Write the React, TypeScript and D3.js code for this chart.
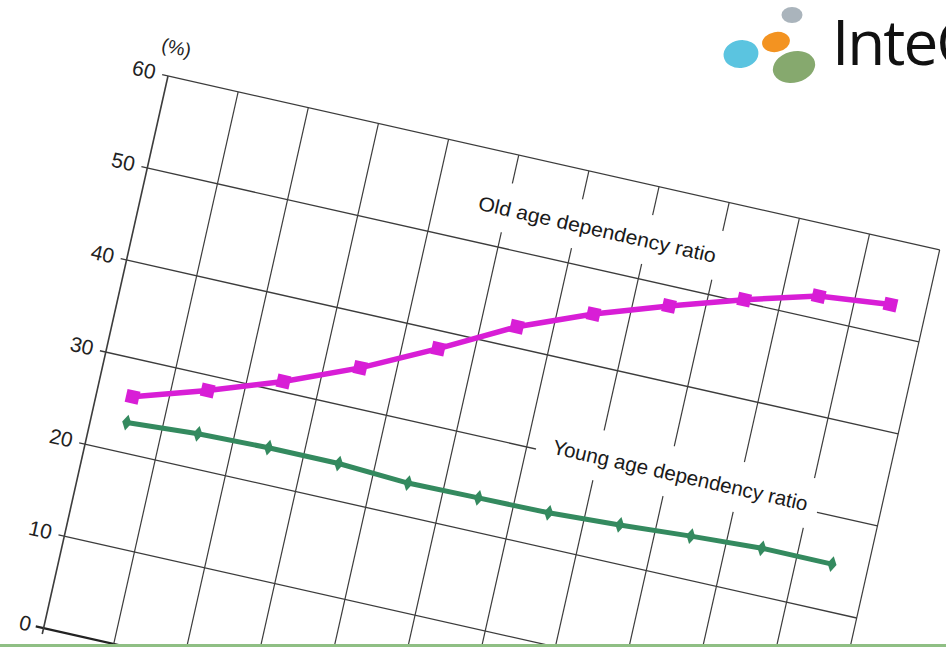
import React from 'react';
import * as d3 from 'd3';

// ---- data (in the chart's own frame) ----
const categories = ['1', '2', '3', '4', '5', '6', '7', '8', '9', '10', '11'];
const oldAgeRatio = [26.0, 28.4, 31.1, 34.3, 38.1, 42.2, 45.3, 47.9, 50.3, 52.4, 53.2];
const youngAgeRatio = [23.2, 23.7, 23.9, 23.9, 23.5, 23.6, 23.7, 24.1, 24.6, 25.0, 25.0];
const yTicks = [0, 10, 20, 30, 40, 50, 60];
const unitLabel = '(%)';
const oldLabel = 'Old age dependency ratio';
const youngLabel = 'Young age dependency ratio';
const logoText = 'InteG';

// ---- layout ----
const W = 791;
const H = 566;
const ANGLE = 12.7;
const OX = 168;
const OY = 76;
const MAGENTA = '#d81ed6';
const GREEN = '#348a5f';
const GRID = '#3c3c3c';

export default function App() {
  const x = d3.scaleBand<string>().domain(categories).range([0, W]);
  const y = d3.scaleLinear().domain([0, 60]).range([H, 0]);
  const cx = (i: number) => (x(categories[i]) as number) + x.bandwidth() / 2;
  const line = d3
    .line<number>()
    .x((_, i) => cx(i))
    .y((d) => y(d));
  const vLines = d3.range(categories.length + 1).map((i) => i * x.step());
  const square = d3.symbol(d3.symbolSquare, 175)() as string;
  const diamond = d3.symbol(d3.symbolDiamond, 75)() as string;

  const oldX = 331;
  const oldBase = y(53.4);
  const youngX = 457;
  const youngBase = y(30) + 1;

  return (
    <svg
      width={946}
      height={647}
      style={{ position: 'absolute', left: 0, top: 0, background: '#fff' }}
      fontFamily="'Liberation Sans', Arial, sans-serif"
    >
      <rect x={0} y={0} width={946} height={647} fill="#fff" />
      <g transform={`translate(${OX},${OY}) rotate(${ANGLE})`}>
        {/* horizontal grid */}
        {yTicks.map((t) => (
          <line
            key={'h' + t}
            x1={t === 0 ? -8 : -6}
            x2={W}
            y1={y(t)}
            y2={y(t)}
            stroke={t === 0 ? '#222' : GRID}
            strokeWidth={t === 0 ? 2.2 : 1.3}
          />
        ))}
        {/* vertical grid */}
        {vLines.map((v, i) => (
          <line
            key={'v' + i}
            x1={v}
            x2={v}
            y1={0}
            y2={H + 6}
            stroke={GRID}
            strokeWidth={i === 0 ? 1.6 : 1.2}
          />
        ))}
        {/* label backgrounds */}
        <rect x={oldX - 16} y={oldBase - 33} width={272} height={50} fill="#fff" />
        <rect x={youngX - 16} y={youngBase - 34} width={288} height={51} fill="#fff" />
        {/* y tick labels */}
        {yTicks.map((t) => (
          <text
            key={'l' + t}
            x={-13}
            y={y(t) + 6.5}
            textAnchor="end"
            fontSize={21}
            fill="#222"
          >
            {t}
          </text>
        ))}
        <text x={2} y={-23} textAnchor="middle" fontSize={19} fill="#222">
          {unitLabel}
        </text>
        {/* series */}
        <path d={line(oldAgeRatio) as string} fill="none" stroke={MAGENTA} strokeWidth={5.5} />
        {oldAgeRatio.map((d, i) => (
          <path key={'o' + i} d={square} transform={`translate(${cx(i)},${y(d)})`} fill={MAGENTA} />
        ))}
        <path d={line(youngAgeRatio) as string} fill="none" stroke={GREEN} strokeWidth={5} />
        {youngAgeRatio.map((d, i) => (
          <path key={'y' + i} d={diamond} transform={`translate(${cx(i)},${y(d)})`} fill={GREEN} />
        ))}
        {/* series labels */}
        <text x={oldX} y={oldBase} fontSize={20} fill="#1a1a1a" textLength={243} lengthAdjust="spacingAndGlyphs">
          {oldLabel}
        </text>
        <text x={youngX} y={youngBase} fontSize={20.5} fill="#1a1a1a" textLength={261} lengthAdjust="spacingAndGlyphs">
          {youngLabel}
        </text>
      </g>
      {/* logo */}
      <ellipse cx={792} cy={15} rx={10.5} ry={8} fill="#aab4bc" />
      <ellipse cx={776} cy={42} rx={14} ry={10} fill="#f39321" transform="rotate(-10 776 42)" />
      <ellipse cx={741} cy={54} rx={17.5} ry={14} fill="#5bc4e0" transform="rotate(-8 741 54)" />
      <ellipse cx={794} cy={67} rx={21.5} ry={15.5} fill="#86a96e" transform="rotate(-15 794 67)" />
      <text
        x={832}
        y={65}
        fontSize={62}
        letterSpacing={-2}
        fontFamily="'Open Sans', 'Noto Sans', sans-serif"
        fill="#111"
      >
        {logoText}
      </text>
      {/* page border at bottom */}
      <rect x={0} y={644} width={946} height={3} fill="#8fbf84" />
    </svg>
  );
}
